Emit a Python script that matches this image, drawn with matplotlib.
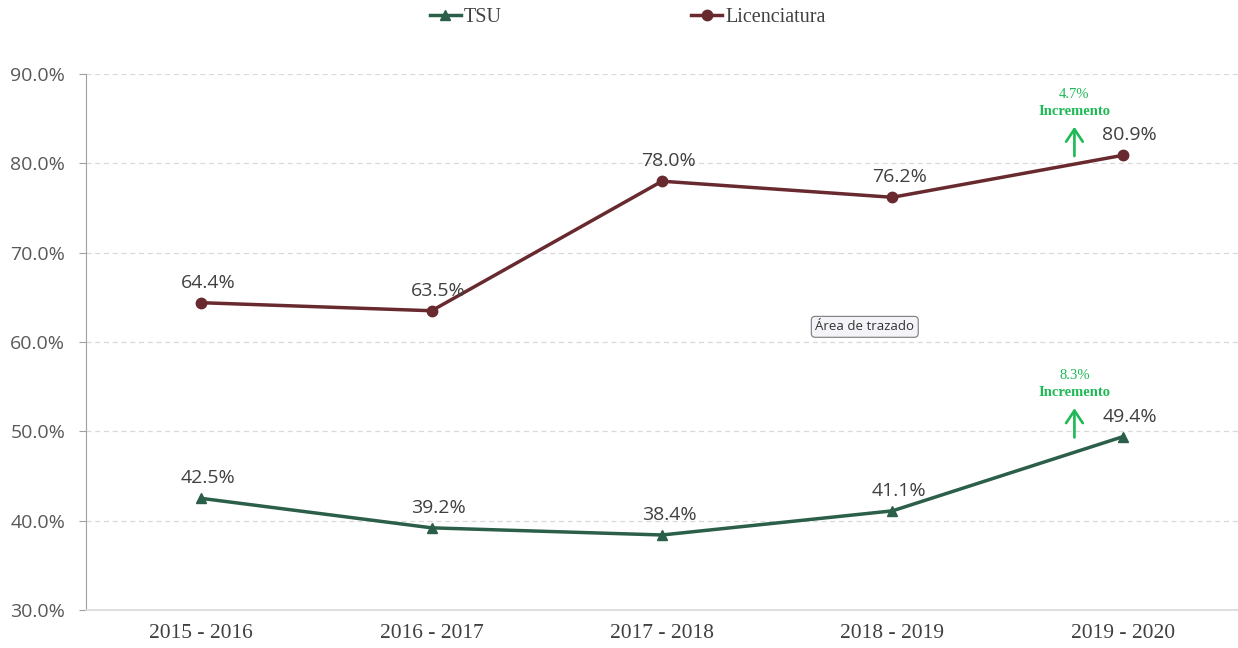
import numpy as np
import matplotlib
matplotlib.use("Agg")
import matplotlib.pyplot as plt
from matplotlib.lines import Line2D

# ---- Data ------------------------------------------------------------------
periodos = ["2015 - 2016", "2016 - 2017", "2017 - 2018", "2018 - 2019", "2019 - 2020"]
tsu = [42.5, 39.2, 38.4, 41.1, 49.4]
licenciatura = [64.4, 63.5, 78.0, 76.2, 80.9]
incremento_tsu = 8.3
incremento_lic = 4.7

C_TSU = "#2B5F49"
C_LIC = "#682A2E"
C_UP = "#1DB954"
SERIF = ["Liberation Serif", "DejaVu Serif"]
SANS = ["Open Sans", "DejaVu Sans"]

fig = plt.figure(figsize=(12.38, 6.48), dpi=100, facecolor="white")
ax = fig.add_axes([0.0695, 0.0586, 0.9305, 0.8272])

x = np.arange(len(periodos))
ax.plot(x, tsu, color=C_TSU, lw=2.5, marker="^", ms=7.5, zorder=3)
ax.plot(x, licenciatura, color=C_LIC, lw=2.5, marker="o", ms=7.5, zorder=3)

for xi, v in zip(x, tsu):
    ax.annotate(f"{v:.1f}%", (xi, v), xytext=(5, 8), textcoords="offset points",
                ha="center", va="bottom", fontsize=14, color="#404040", family=SANS)
for xi, v in zip(x, licenciatura):
    ax.annotate(f"{v:.1f}%", (xi, v), xytext=(5, 8), textcoords="offset points",
                ha="center", va="bottom", fontsize=14, color="#404040", family=SANS)

# increment arrows on the last period
for v, inc in [(licenciatura[-1], incremento_lic), (tsu[-1], incremento_tsu)]:
    ax.annotate("", xy=(3.79, v + 3.5), xytext=(3.79, v - 0.4),
                arrowprops=dict(arrowstyle="->,head_length=0.9,head_width=0.6",
                                color=C_UP, lw=1.9))
    ax.text(3.79, v + 6.8, f"{inc:.1f}%", ha="center", va="center",
            fontsize=10.5, color=C_UP, family=SERIF)
    ax.text(3.79, v + 4.9, "Incremento", ha="center", va="center",
            fontsize=10.5, color=C_UP, family=SERIF, fontweight="bold")

ax.text(2.88, 61.7, "Área de trazado", ha="center", va="center", fontsize=9.5,
        color="#333333", family=SANS,
        bbox=dict(boxstyle="round,pad=0.3", fc="#F4F4F8", ec="#7A7A7A", lw=0.8))

ax.set_xlim(-0.5, 4.5)
ax.set_ylim(30, 90)
ax.set_yticks(np.arange(30, 91, 10))
ax.set_yticklabels([f"{t:.1f}%" for t in np.arange(30, 91, 10)], family=SANS,
                   fontsize=14, color="#595959")
ax.set_xticks(x)
ax.set_xticklabels(periodos, family=SERIF, fontsize=15.5, color="#404040")
ax.tick_params(axis="x", length=0, pad=10)
ax.tick_params(axis="y", length=5, color="#A0A0A0", pad=10)

ax.grid(axis="y", color="#D9D9D9", ls=(0, (4, 3)), lw=0.9)
ax.set_axisbelow(True)
for s in ["top", "right"]:
    ax.spines[s].set_visible(False)
ax.spines["left"].set_color("#A0A0A0")
ax.spines["bottom"].set_color("#D9D9D9")
ax.spines["bottom"].set_linewidth(1.2)

handles = [Line2D([], [], color=C_TSU, lw=2.5, marker="^", ms=7.5),
           Line2D([], [], color=C_LIC, lw=2.5, marker="o", ms=7.5)]
fig.legend(handles, ["TSU", "Licenciatura"], loc="upper center",
           bbox_to_anchor=(0.507, 1.016), ncol=2, frameon=False, columnspacing=9.4,
           handlelength=1.55, handletextpad=0.15, prop={"family": SERIF, "size": 14.5})
for t in fig.legends[0].get_texts():
    t.set_color("#404040")

fig.savefig("out.png", dpi=100, facecolor="white")
